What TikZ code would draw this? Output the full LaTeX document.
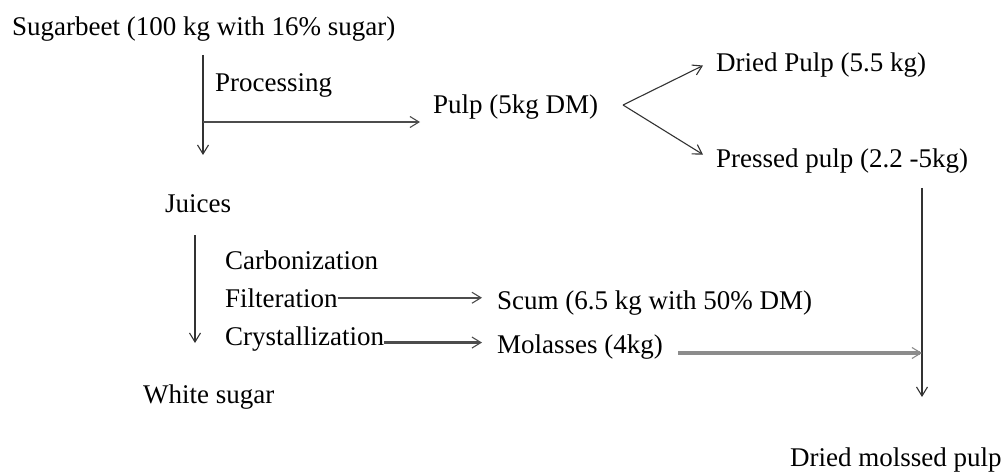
\documentclass[tikz,border=0pt]{standalone}
\usepackage{fontspec}
\setmainfont{Liberation Serif}
\usetikzlibrary{arrows.meta}

\begin{document}
\begin{tikzpicture}[x=1pt,y=-1pt,
        lbl/.style={anchor=base west,inner sep=0pt,font=\fontsize{27}{32}\selectfont},
        flow/.style={draw=black!80,line width=1.1pt,-{Straight Barb[length=9pt,width=11pt,line width=1.1pt]}},
        feed/.style={flow,draw=black!70,line width=2.4pt},
        wide/.style={flow,draw=black!45,line width=3.5pt}]
        \useasboundingbox (0,0) rectangle (1001,473);
        \pgfmathsetmacro{\xproc}{203} % processing line
        \pgfmathsetmacro{\xjuice}{195} % juices line
        \pgfmathsetmacro{\xright}{922} % right line
        % texts
        \node[lbl] (beet) at (12,36) {Sugarbeet (100 kg with 16\% sugar)};
        \node[lbl] (proc) at (215,92) {Processing};
        \node[lbl] (pulp) at (433,114) {Pulp (5kg DM)};
        \node[lbl] (dried) at (716,72) {Dried Pulp (5.5 kg)};
        \node[lbl] (pressed) at (716,168) {Pressed pulp (2.2 -5kg)};
        \node[lbl] (juices) at (165,213) {Juices};
        \node[lbl] (carb) at (225,269) {Carbonization};
        \node[lbl] (filt) at (225,307) {Filteration};
        \node[lbl] (cryst) at (225,345) {Crystallization};
        \node[lbl] (white) at (143,403) {White sugar};
        \node[lbl] (scum) at (497,309) {Scum (6.5 kg with 50\% DM)};
        \node[lbl] (mol) at (497,353) {Molasses (4kg)};
        \node[lbl] (dmp) at (790,466) {Dried molssed pulp};
        % line ends
        \coordinate (procTop) at (\xproc,55);
        \coordinate (procSplit) at (\xproc,122);
        \coordinate (procEnd) at (\xproc,155);
        \coordinate (fork) at (623,105);
        \coordinate (rightTop) at (\xright,188);
        \coordinate (molJoin) at (\xright,353);
        \coordinate (rightEnd) at (\xright,397);
        \coordinate (juiceTop) at (\xjuice,235);
        \coordinate (juiceEnd) at (\xjuice,343);
        % arrows
        \draw[flow] (procTop) -- (procEnd);
        \draw[feed] (procSplit) -- ([xshift=-13pt]pulp.west |- procSplit);
        \draw[flow] (fork) -- ([xshift=-13pt]dried.west);
        \draw[flow] (fork) -- ([xshift=-13pt,yshift=7pt]pressed.west);
        \draw[flow] (rightTop) -- (rightEnd);
        \draw[wide] ([xshift=15pt]mol.east |- molJoin) -- (molJoin);
        \draw[flow] (juiceTop) -- (juiceEnd);
        \draw[feed] (filt.east) -- ([xshift=-15pt]scum.west |- filt.east);
        \draw[feed] ([yshift=-4pt]cryst.east) -- ([xshift=-15pt,yshift=-4pt]mol.west |- cryst.east);
\end{tikzpicture}
\end{document}
